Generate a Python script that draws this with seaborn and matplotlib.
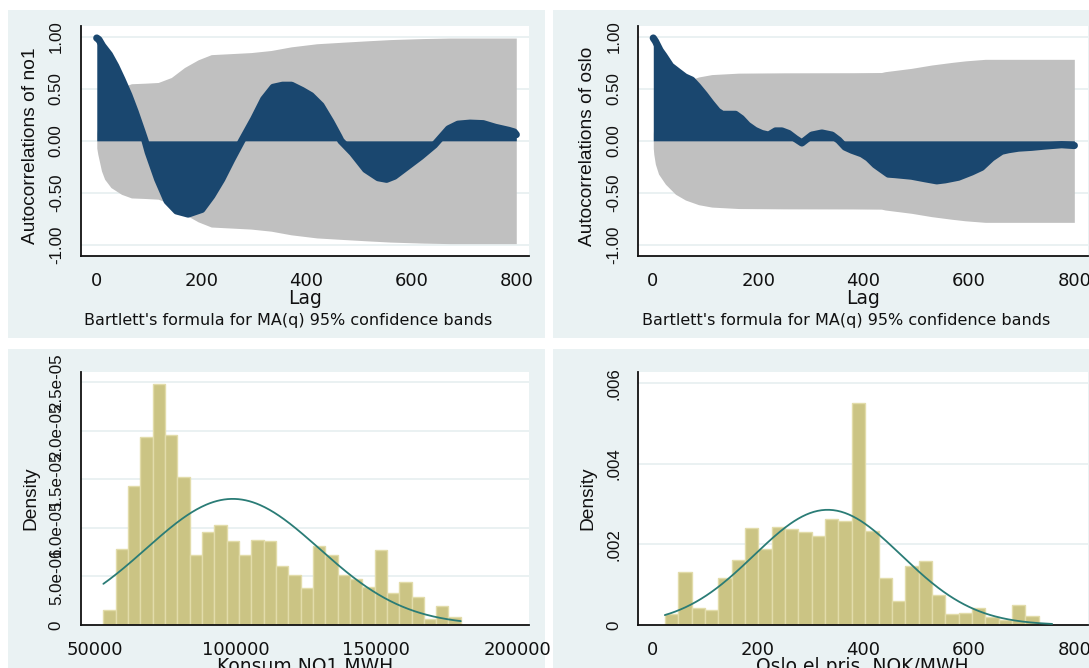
import numpy as np
import pandas as pd
import matplotlib
matplotlib.use("Agg")
import matplotlib.pyplot as plt
import seaborn as sns
from matplotlib.patches import Rectangle

# ---------------- data ----------------
# autocorrelations of no1 (lag, r) and Bartlett 95% band half-width
NO1_LAGS = [1, 5, 12, 25, 37, 49, 62, 74, 87, 93, 99, 117, 135, 153, 175, 201, 220,
            239, 258, 277, 300, 319, 337, 355, 372, 392, 409, 428, 447, 462, 466, 488,
            513, 537, 553, 568, 593, 618, 644, 651, 671, 689, 712, 737, 760, 786, 796, 800]
NO1_ACF = [0.99, 0.975, 0.915, 0.83, 0.72, 0.59, 0.44, 0.28, 0.09, 0.0, -0.11, -0.37,
           -0.58, -0.675, -0.705, -0.66, -0.53, -0.37, -0.18, 0.0, 0.21, 0.40, 0.515,
           0.535, 0.535, 0.485, 0.435, 0.34, 0.18, 0.04, 0.0, -0.115, -0.275, -0.355,
           -0.37, -0.34, -0.245, -0.15, -0.04, 0.0, 0.115, 0.16, 0.17, 0.165, 0.13,
           0.10, 0.085, 0.06]
NO1_BAND_LAGS = [1, 3, 10, 16, 28, 48, 67, 92, 118, 143, 168, 194, 219, 257, 295, 333,
                 371, 420, 470, 515, 560, 623, 674, 800]
NO1_BAND = [0.07, 0.13, 0.29, 0.37, 0.45, 0.515, 0.55, 0.555, 0.562, 0.61, 0.706, 0.78,
            0.83, 0.84, 0.85, 0.87, 0.905, 0.935, 0.95, 0.963, 0.975, 0.985, 0.99, 0.99]

# autocorrelations of oslo
OSLO_LAGS = [1, 5, 14, 21, 34, 48, 61, 74, 85, 98, 110, 123, 132, 157, 168, 180, 194,
             207, 220, 233, 245, 258, 271, 283, 302, 321, 340, 353, 365, 378, 397, 409,
             422, 435, 447, 460, 491, 517, 539, 555, 580, 605, 624, 643, 662, 675, 694,
             719, 744, 776, 800]
OSLO_ACF = [0.99, 0.96, 0.87, 0.82, 0.72, 0.665, 0.615, 0.585, 0.525, 0.445, 0.365,
            0.285, 0.255, 0.255, 0.215, 0.15, 0.10, 0.07, 0.055, 0.095, 0.095, 0.07,
            0.02, -0.02, 0.055, 0.075, 0.055, 0.005, -0.06, -0.09, -0.125, -0.165,
            -0.23, -0.277, -0.32, -0.325, -0.34, -0.365, -0.385, -0.375, -0.35, -0.30,
            -0.255, -0.165, -0.10, -0.085, -0.07, -0.062, -0.05, -0.037, -0.045]
OSLO_BAND_LAGS = [1, 2, 5, 11, 24, 43, 62, 87, 112, 163, 250, 378, 434, 441, 491, 529,
                  567, 593, 631, 800]
OSLO_BAND = [0.07, 0.13, 0.225, 0.32, 0.417, 0.514, 0.57, 0.615, 0.638, 0.652, 0.655,
             0.656, 0.658, 0.666, 0.698, 0.73, 0.755, 0.77, 0.785, 0.785]

# histogram of Konsum NO1 MWH (29 bins, density)
NO1_BIN_START = 53060.0
NO1_BIN_WIDTH = 4377.0
NO1_DENSITY = [1.55e-6, 7.83e-6, 14.3e-6, 19.4e-6, 24.8e-6, 19.6e-6, 15.2e-6, 7.2e-6,
               9.55e-6, 10.3e-6, 8.66e-6, 7.2e-6, 8.8e-6, 8.66e-6, 6.1e-6, 5.17e-6,
               3.79e-6, 8.17e-6, 7.2e-6, 5.17e-6, 4.72e-6, 3.9e-6, 7.69e-6, 3.28e-6,
               4.38e-6, 2.93e-6, 0.65e-6, 2.0e-6, 0.8e-6]
NO1_MEAN = 99000.0
NO1_SD = 30700.0

# histogram of Oslo el pris, NOK/MWH (29 bins, density)
OSLO_BIN_START = 23.0
OSLO_BIN_WIDTH = 25.34
OSLO_DENSITY = [0.27e-3, 1.32e-3, 0.41e-3, 0.37e-3, 1.17e-3, 1.61e-3, 2.40e-3, 1.88e-3,
                2.44e-3, 2.38e-3, 2.30e-3, 2.22e-3, 2.63e-3, 2.59e-3, 5.50e-3, 2.34e-3,
                1.17e-3, 0.60e-3, 1.47e-3, 1.59e-3, 0.75e-3, 0.27e-3, 0.31e-3, 0.43e-3,
                0.21e-3, 0.12e-3, 0.49e-3, 0.22e-3, 0.03e-3]
OSLO_MEAN = 332.0
OSLO_SD = 139.5

ACF_TICKS = [-1.0, -0.5, 0.0, 0.5, 1.0]
ACF_TICKLABELS = ["-1.00", "-0.50", "0.00", "0.50", "1.00"]
LAG_TICKS = [0, 200, 400, 600, 800]
NO1_XTICKS = [50000, 100000, 150000, 200000]
NO1_YTICKS = [0, 5e-6, 1e-5, 1.5e-5, 2e-5, 2.5e-5]
NO1_YTICKLABELS = ["0", "5.0e-06", "1.0e-05", "1.5e-05", "2.0e-05", "2.5e-05"]
OSLO_XTICKS = [0, 200, 400, 600, 800]
OSLO_YTICKS = [0, 0.002, 0.004, 0.006]
OSLO_YTICKLABELS = ["0", ".002", ".004", ".006"]

# ---------------- style ----------------
sns.set_style("white")
plt.rcParams["font.family"] = ["DejaVu Sans"]

W, H = 1089, 668
NAVY = "#1a476f"
BAND = "#c0c0c0"
PANEL = "#eaf2f3"
GRID = "#e6eff0"
BAR = "#cbc484"
BAR_EDGE = "#e2dcaa"
CURVE = "#2a7c76"
INK = "#111111"
ROT_FONT = ["Liberation Sans", "DejaVu Sans"]

fig = plt.figure(figsize=(W / 100, H / 100), dpi=100)
fig.patch.set_facecolor("white")


def frac_x(px):
    return px / W


def frac_y(py):
    return 1 - py / H


def add_axes(left, right, top, bottom):
    return fig.add_axes([frac_x(left), frac_y(bottom), (right - left) / W, (bottom - top) / H])


# panel backgrounds (graph regions), kept behind the axes
for (x0, x1, y0, y1) in [(8, 545, 10, 338), (553, 1095, 10, 338),
                         (8, 545, 349, 680), (553, 1095, 349, 680)]:
    fig.patches.append(Rectangle((frac_x(x0), frac_y(y1)), (x1 - x0) / W, (y1 - y0) / H,
                                 transform=fig.transFigure, facecolor=PANEL,
                                 edgecolor="none", zorder=-5))


def style_axes(ax):
    ax.set_facecolor("white")
    for s in ["top", "right"]:
        ax.spines[s].set_visible(False)
    for s in ["left", "bottom"]:
        ax.spines[s].set_color(INK)
        ax.spines[s].set_linewidth(1.3)
    ax.tick_params(axis="both", direction="out", length=4.0, width=1.0, color=INK)
    ax.tick_params(axis="x", labelsize=13, pad=7.5, labelcolor=INK)
    ax.tick_params(axis="y", labelsize=12.2, pad=8, labelrotation=90, labelcolor=INK)
    for lab in ax.get_yticklabels():
        lab.set_fontfamily(ROT_FONT)
        lab.set_va("center")
    ax.set_xlabel("")
    ax.set_ylabel("")


def draw_acf(ax, lags, acf, band_lags, band, name, left, right, lag_left):
    df = pd.DataFrame({"lag": lags, "r": acf})
    bd = pd.DataFrame({"lag": band_lags, "b": band})
    for yv in ACF_TICKS:
        ax.axhline(yv, color=GRID, lw=1.2, zorder=0)
    ax.fill_between(bd["lag"], -bd["b"], bd["b"], color=BAND, lw=0, zorder=1)
    ax.fill_between(df["lag"], 0, df["r"], color=NAVY, lw=0, zorder=2)
    sns.lineplot(data=df, x="lag", y="r", ax=ax, color=NAVY, lw=5.2,
                 solid_capstyle="round", solid_joinstyle="round", zorder=3)
    ax.set_xlim(lag_left, 825)
    ax.set_ylim(-1.112, 1.106)
    ax.set_xticks(LAG_TICKS)
    ax.set_yticks(ACF_TICKS)
    ax.set_yticklabels(ACF_TICKLABELS)
    style_axes(ax)
    cx = (left + right) / 2
    fig.text(frac_x(cx), frac_y(298), "Lag", ha="center", va="center", fontsize=13.5,
             color=INK)
    fig.text(frac_x(left + 4), frac_y(320), "Bartlett's formula for MA(q) 95% confidence bands",
             ha="left", va="center", fontsize=11.5, color=INK)
    fig.text(frac_x(left - 50), frac_y(146), "Autocorrelations of " + name, rotation=90,
             ha="center", va="center", fontsize=13.8, family=ROT_FONT, color=INK)


def draw_hist(ax, start, width, density, mean, sd, xlabel, left, right):
    n = len(density)
    stop = start + width * n
    centers = start + width * (np.arange(n) + 0.5)
    hd = pd.DataFrame({"x": centers, "w": density})
    sns.histplot(data=hd, x="x", weights="w", bins=n, binrange=(start, stop),
                 stat="count", ax=ax, color=BAR, edgecolor=BAR_EDGE, linewidth=1.0,
                 alpha=1.0, zorder=2)
    grid = np.linspace(start, stop, 300)
    pdf = np.exp(-0.5 * ((grid - mean) / sd) ** 2) / (sd * np.sqrt(2 * np.pi))
    sns.lineplot(x=grid, y=pdf, ax=ax, color=CURVE, lw=1.3, zorder=3)
    cx = (left + right) / 2
    fig.text(frac_x(cx), frac_y(657.5), xlabel, ha="center", va="top", fontsize=13.5,
             color=INK)
    fig.text(frac_x(left - 50), frac_y(498), "Density", rotation=90, ha="center",
             va="center", fontsize=13.8, family=ROT_FONT, color=INK)


# ---- top-left: ACF no1
L1, R1 = 80.5, 529.4
L2, R2 = 638.0, 1087.5
ax1 = add_axes(L1, R1, 26, 256.3)
draw_acf(ax1, NO1_LAGS, NO1_ACF, NO1_BAND_LAGS, NO1_BAND, "no1", L1, R1, -30)

# ---- top-right: ACF oslo
ax2 = add_axes(L2, R2, 26, 256.3)
draw_acf(ax2, OSLO_LAGS, OSLO_ACF, OSLO_BAND_LAGS, OSLO_BAND, "oslo", L2, R2, -28)

# ---- bottom-left: histogram no1
ax3 = add_axes(L1, R1, 372, 625)
for yv in NO1_YTICKS[1:]:
    ax3.axhline(yv, color=GRID, lw=1.2, zorder=0)
draw_hist(ax3, NO1_BIN_START, NO1_BIN_WIDTH, NO1_DENSITY, NO1_MEAN, NO1_SD,
          "Konsum NO1 MWH", L1, R1)
ax3.set_xlim(44940, 204350)
ax3.set_ylim(0, 2.607e-5)
ax3.set_xticks(NO1_XTICKS)
ax3.set_xticklabels([str(v) for v in NO1_XTICKS])
ax3.set_yticks(NO1_YTICKS)
ax3.set_yticklabels(NO1_YTICKLABELS)
style_axes(ax3)

# ---- bottom-right: histogram oslo
ax4 = add_axes(L2, R2, 372, 625)
for yv in OSLO_YTICKS[1:]:
    ax4.axhline(yv, color=GRID, lw=1.2, zorder=0)
draw_hist(ax4, OSLO_BIN_START, OSLO_BIN_WIDTH, OSLO_DENSITY, OSLO_MEAN, OSLO_SD,
          "Oslo el pris, NOK/MWH", L2, R2)
ax4.set_xlim(-27.9, 825)
ax4.set_ylim(0, 6.281e-3)
ax4.set_xticks(OSLO_XTICKS)
ax4.set_yticks(OSLO_YTICKS)
ax4.set_yticklabels(OSLO_YTICKLABELS)
style_axes(ax4)

fig.savefig("out.png", dpi=100)
